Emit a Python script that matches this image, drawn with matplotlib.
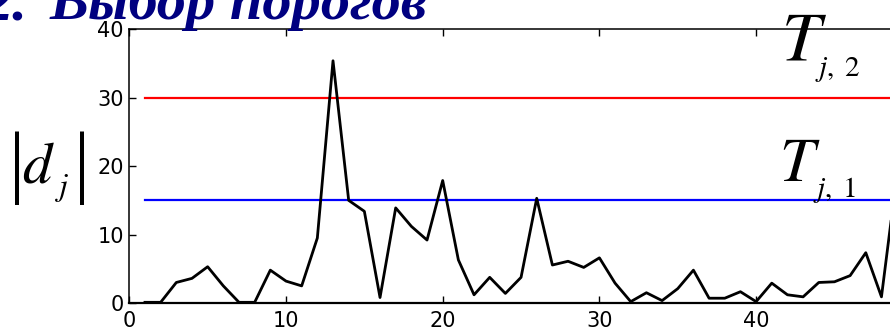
import matplotlib
matplotlib.use("Agg")
import matplotlib.pyplot as plt

# |d_j| values, j = 1..49
j_index = list(range(1, 50))
d_abs = [0.1, 0.1, 3.0, 3.6, 5.3, 2.5, 0.1, 0.1, 4.8, 3.2,
         2.5, 9.5, 35.4, 15.0, 13.4, 0.8, 13.9, 11.2, 9.2, 17.9,
         6.3, 1.2, 3.75, 1.4, 3.75, 15.3, 5.55, 6.1, 5.2, 6.6,
         2.9, 0.2, 1.5, 0.35, 2.1, 4.8, 0.7, 0.7, 1.65, 0.2,
         2.9, 1.2, 0.9, 3.0, 3.1, 4.0, 7.35, 0.9, 19.0]
thr_1 = 15
thr_2 = 30
x_max = 60

plt.rcParams['mathtext.fontset'] = 'stix'
plt.rcParams['font.family'] = ['DejaVu Sans']

W, H = 890, 331


def fx(px):
    return px / W


def fy(py):
    return 1 - py / H


fig = plt.figure(figsize=(W / 100, H / 100), dpi=100)
ax = fig.add_axes([fx(129.3), 28 / H, 60 * 15.67 / W, 273.7 / H])

ax.plot([j_index[0], x_max], [thr_2, thr_2], color='#ff0000', lw=1.6)
ax.plot([j_index[0], x_max], [thr_1, thr_1], color='#0000ff', lw=1.6)
ax.plot(j_index, d_abs, color='black', lw=2.0)

ax.set_xlim(0, x_max)
ax.set_ylim(0, 40)
ax.set_xticks(range(0, x_max + 1, 10))
ax.set_yticks(range(0, 41, 10))
ax.tick_params(direction='in', top=True, right=True, length=5, width=1,
               labelsize=15, pad=4)
ax.tick_params(axis='x', pad=6)
for side in ['top', 'left']:
    ax.spines[side].set_linewidth(1.1)
ax.spines['bottom'].set_linewidth(1.6)

# title (cut off at the top in the reference)
title_kw = dict(va='baseline', fontsize=42, family='Liberation Serif',
                style='italic', weight='bold', color='#000080')
fig.text(fx(28), fy(19), "2.", ha='right', **title_kw)
fig.text(fx(428), fy(19), "Выбор порогов", ha='right', **title_kw)

# y label |d_j|
fig.text(fx(16.7), fy(168), "|", ha='center', va='center', fontsize=58,
         family='Liberation Serif')
fig.text(fx(82), fy(168), "|", ha='center', va='center', fontsize=58,
         family='Liberation Serif')
fig.text(fx(22), fy(183), r'$d$', ha='left', va='baseline', fontsize=42)
fig.text(fx(55), fy(195), r'$j$', ha='left', va='baseline', fontsize=23)

# threshold labels
fig.text(fx(781), fy(60), r'$T$', ha='left', va='baseline', fontsize=50)
fig.text(fx(815), fy(76), r'$j,\;2$', ha='left', va='baseline', fontsize=21)
fig.text(fx(779), fy(181), r'$T$', ha='left', va='baseline', fontsize=45)
fig.text(fx(813), fy(197), r'$j,\;1$', ha='left', va='baseline', fontsize=21)

fig.savefig("out.png", dpi=100)
